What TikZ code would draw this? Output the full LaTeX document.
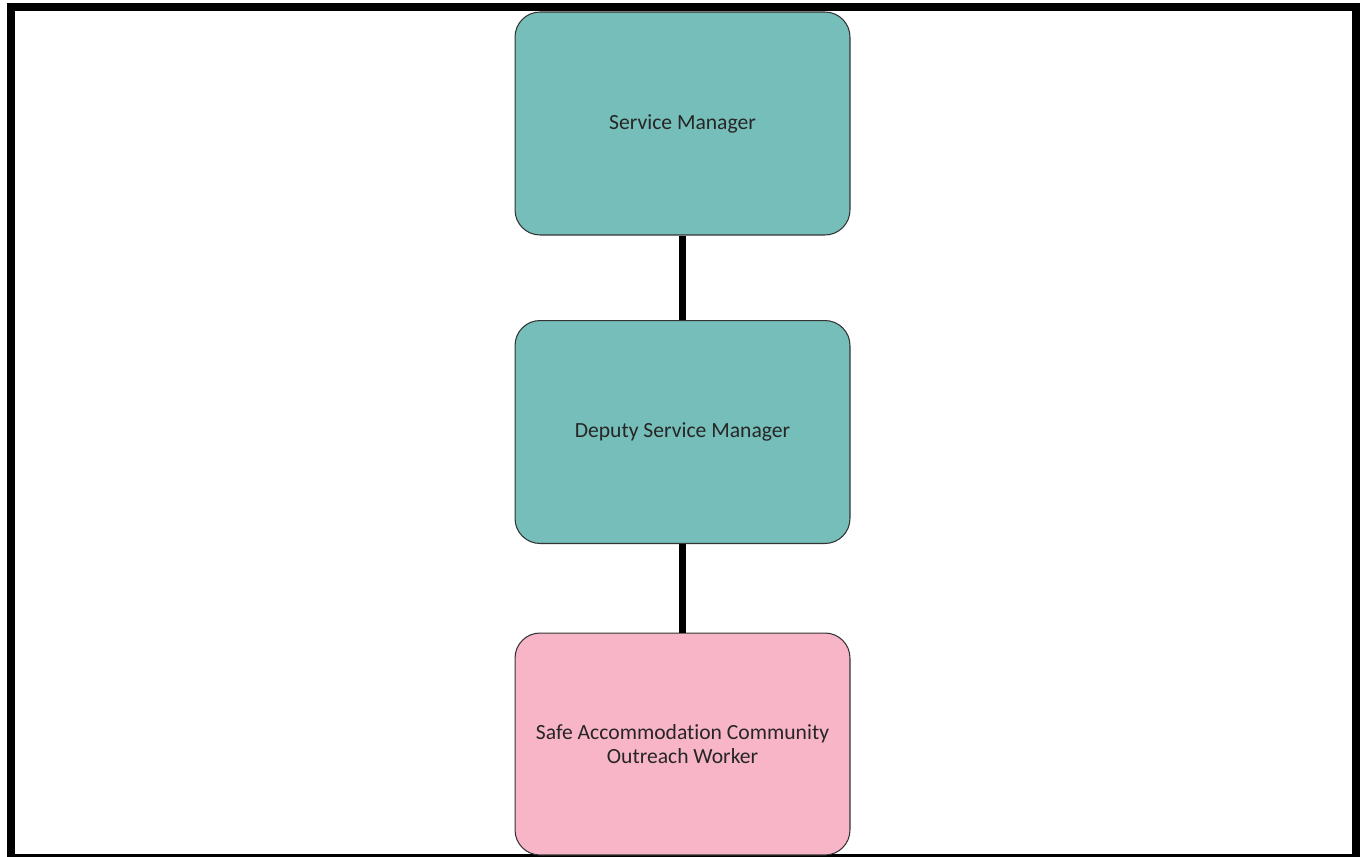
\documentclass[tikz,border=0pt]{standalone}
\usepackage{fontspec}
\setmainfont{Carlito}[Ligatures=NoCommon]
\usepackage{tikz}
\definecolor{mgrteal}{RGB}{118,190,185}
\definecolor{workerpink}{RGB}{249,181,200}
\tikzstyle{rolebox}=[draw=black!80, line width=0.6pt, rounded corners=0.5cm, minimum width=6.7cm, minimum height=4.46cm, align=center, text=black!85, font=\fontsize{12.3}{13.6}\selectfont]
\tikzstyle{link}=[draw=black, line width=0.14cm]

\begin{document}
\begin{tikzpicture}[x=0.02cm, y=-0.02cm]
\useasboundingbox (0,0) rectangle (1365,856);
\fill[white] (0,0) rectangle (1365,856);
\draw[line width=0.16cm] ( 11 , 7 ) rectangle ( 1356 , 858 );
\node[rolebox, fill=mgrteal] (sm) at ( 682.5 , 123.5 ){Service Manager};
\node[rolebox, fill=mgrteal] (dsm) at ( 682.5 , 432 ){Deputy Service Manager};
\node[rolebox, fill=workerpink, minimum height=4.44cm] (worker) at ( 682.5 , 744 ){Safe Accommodation Community\\Outreach Worker};
\draw[link] (sm) -- (dsm);
\draw[link] (dsm) -- (worker);
\end{tikzpicture}
\end{document}
